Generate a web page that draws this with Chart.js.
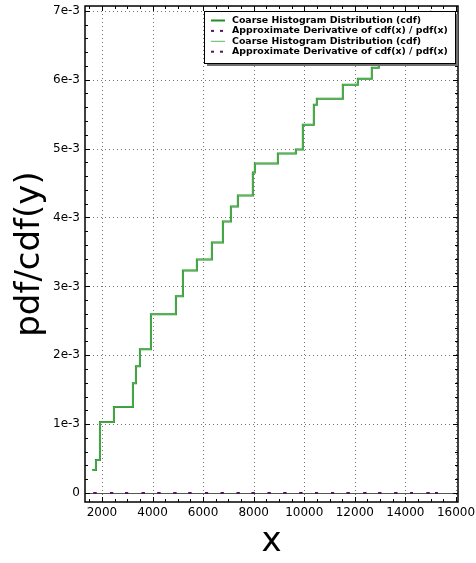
<!DOCTYPE html>
<html>
<head>
<meta charset="utf-8">
<script src="https://cdn.jsdelivr.net/npm/chart.js@4.4.0/dist/chart.umd.min.js"></script>
<style>
    html, body { margin: 0; padding: 0; background: #fff; }
    #wrap { width: 476px; height: 563px; }
</style>
</head>
<body>
<div id="wrap"><canvas id="cdfChart" width="476" height="563"></canvas></div>
<script>
// === DỮ LIỆU ===
// bậc thang cdf: giá trị sau mỗi bước nhảy tại x
const cdfX = [1617, 1763, 1921, 2474, 3225, 3344, 3502, 3937, 4925, 5202, 5755, 6348, 6783,
    7099, 7375, 7968, 8047, 8957, 9668, 9945, 10379, 10498, 11526, 12119, 12672, 12949,
    13500, 14200, 15000];
const cdfY = [0.333e-3, 0.478e-3, 1.03e-3, 1.25e-3, 1.594e-3, 1.84e-3, 2.087e-3, 2.594e-3,
    2.855e-3, 3.232e-3, 3.39e-3, 3.638e-3, 3.942e-3, 4.159e-3, 4.319e-3, 4.652e-3, 4.783e-3,
    4.928e-3, 4.986e-3, 5.348e-3, 5.638e-3, 5.725e-3, 5.928e-3, 6.014e-3, 6.174e-3, 6.40e-3,
    6.62e-3, 6.85e-3, 7.0e-3];

// đạo hàm xấp xỉ (pdf) - gần như bằng 0 trên trục
const pdfX = [1723, 2383, 2976, 3632, 4253, 4885, 5478, 6138, 6755, 7387, 7980, 8613, 9234,
    9866, 10486, 11119, 11735, 12395, 12988, 13621, 14241, 14897, 15229];
const pdfY = [0.4e-6, 0.5e-6, 0.5e-6, 0.6e-6, 0.5e-6, 0.4e-6, 0.5e-6, 0.5e-6, 0.6e-6, 0.5e-6,
    0.5e-6, 0.4e-6, 0.5e-6, 0.5e-6, 0.5e-6, 0.4e-6, 0.5e-6, 0.5e-6, 0.4e-6, 0.5e-6,
    0.5e-6, 0.4e-6, 0.3e-6];

const cdfLabel = 'Coarse Histogram Distribution (cdf)';
const pdfLabel = 'Approximate Derivative of cdf(x) / pdf(x)';

const xTicks = [2000, 4000, 6000, 8000, 10000, 12000, 14000, 16000];
const yTicks = [0, 1e-3, 2e-3, 3e-3, 4e-3, 5e-3, 6e-3, 7e-3];
const yTickLabels = ['0', '1e-3', '2e-3', '3e-3', '4e-3', '5e-3', '6e-3', '7e-3'];

const FONT = '"DejaVu Sans", "Liberation Sans", sans-serif';
const GREEN_DARK = 'rgb(35,140,35)';
const GREEN_LIGHT = 'rgb(95,185,95)';
const PURPLE = 'rgb(85,20,100)';

function toPoints(xs, ys) {
    return xs.map((x, i) => ({ x: x, y: ys[i] }));
}

// Lưới chấm, khung, vạch chia hướng vào trong, chú thích
const framePlugin = {
    id: 'frame',
    beforeDatasetsDraw(chart) {
        const { ctx, chartArea: a, scales: { x, y } } = chart;
        ctx.save();
        ctx.strokeStyle = 'rgba(0,0,0,0.55)';
        ctx.lineWidth = 1;
        ctx.setLineDash([1, 3]);
        xTicks.forEach(v => {
            const px = Math.round(x.getPixelForValue(v)) + 0.5;
            ctx.beginPath(); ctx.moveTo(px, a.top); ctx.lineTo(px, a.bottom); ctx.stroke();
        });
        yTicks.forEach(v => {
            const py = Math.round(y.getPixelForValue(v)) + 0.5;
            ctx.beginPath(); ctx.moveTo(a.left, py); ctx.lineTo(a.right, py); ctx.stroke();
        });
        // đường y = 0
        ctx.setLineDash([]);
        ctx.strokeStyle = '#555';
        const py0 = Math.round(y.getPixelForValue(0)) + 0.5;
        ctx.beginPath(); ctx.moveTo(a.left, py0); ctx.lineTo(a.right, py0); ctx.stroke();
        ctx.restore();
    },
    afterDatasetsDraw(chart) {
        const { ctx, chartArea: a, scales: { x, y } } = chart;
        ctx.save();
        ctx.strokeStyle = '#000';
        ctx.lineWidth = 1;
        const tick = (px, py, dx, dy) => {
            ctx.beginPath(); ctx.moveTo(px, py); ctx.lineTo(px + dx, py + dy); ctx.stroke();
        };
        // vạch chia chính + phụ
        for (let v = 1500; v <= 16000; v += 500) {
            const px = Math.round(x.getPixelForValue(v)) + 0.5;
            const len = v % 2000 === 0 ? 5 : 3;
            tick(px, a.bottom, 0, -len);
            tick(px, a.top, 0, len);
        }
        for (let i = 0; i <= 35; i++) {
            const v = i * 0.2e-3;
            const py = Math.round(y.getPixelForValue(v)) + 0.5;
            const len = i % 5 === 0 ? 5 : 3;
            tick(a.left, py, len, 0);
            tick(a.right, py, -len, 0);
        }
        ctx.lineWidth = 1.5;
        ctx.strokeRect(a.left, a.top, a.right - a.left, a.bottom - a.top);
        ctx.restore();
    },
    afterDraw(chart) {
        const ctx = chart.ctx;
        const bx = 204, by = 11, bw = 251, bh = 52;
        ctx.save();
        ctx.fillStyle = '#6f6f6f';
        ctx.fillRect(bx + 3, by + 3, bw, bh);
        ctx.fillStyle = '#fff';
        ctx.fillRect(bx, by, bw, bh);
        ctx.strokeStyle = '#000';
        ctx.lineWidth = 1;
        ctx.strokeRect(bx + 0.5, by + 0.5, bw, bh);

        ctx.font = 'bold 9.4px ' + FONT;
        ctx.fillStyle = '#000';
        ctx.textBaseline = 'middle';
        chart.data.datasets.forEach((ds, i) => {
            const cy = by + 9.5 + i * 10.4;
            ctx.strokeStyle = ds.borderColor;
            if (ds.showLine === false) {
                ctx.lineWidth = 2;
                ctx.beginPath(); ctx.moveTo(211, cy); ctx.lineTo(214, cy); ctx.stroke();
                ctx.beginPath(); ctx.moveTo(220, cy); ctx.lineTo(223, cy); ctx.stroke();
            } else {
                ctx.lineWidth = ds.borderWidth;
                ctx.beginPath(); ctx.moveTo(211, cy); ctx.lineTo(225, cy); ctx.stroke();
            }
            ctx.fillText(ds.label, 232, cy);
        });
        ctx.restore();
    }
};

const ctxCdf = document.getElementById('cdfChart').getContext('2d');
const cdfChart = new Chart(ctxCdf, {
    type: 'line',
    data: {
        datasets: [{
            label: cdfLabel,
            data: toPoints(cdfX, cdfY),
            borderColor: GREEN_DARK,
            borderWidth: 2,
            stepped: 'before',
            pointRadius: 0,
            fill: false,
            order: 2
        }, {
            label: pdfLabel,
            data: toPoints(pdfX, pdfY),
            borderColor: PURPLE,
            backgroundColor: PURPLE,
            showLine: false,
            pointStyle: 'line',
            pointRadius: 1.5,
            pointBorderWidth: 2,
            order: 1
        }, {
            label: cdfLabel,
            data: toPoints(cdfX, cdfY),
            borderColor: GREEN_LIGHT,
            borderWidth: 1,
            stepped: 'before',
            pointRadius: 0,
            fill: false,
            order: 0
        }, {
            label: pdfLabel,
            data: toPoints(pdfX, pdfY),
            borderColor: PURPLE,
            backgroundColor: PURPLE,
            showLine: false,
            pointStyle: 'line',
            pointRadius: 1.5,
            pointBorderWidth: 2,
            order: 0
        }]
    },
    options: {
        responsive: false,
        animation: false,
        devicePixelRatio: 1,
        layout: { padding: { left: 0, right: 18, top: 5, bottom: 0 } },
        plugins: {
            legend: { display: false },
            tooltip: { enabled: false }
        },
        scales: {
            x: {
                type: 'linear',
                min: 1330,
                max: 16080,
                grid: { display: false, drawTicks: false },
                border: { display: false },
                afterBuildTicks: s => { s.ticks = xTicks.map(v => ({ value: v })); },
                afterFit: s => { s.height = 61; s.paddingLeft = 0; s.paddingRight = 0; },
                ticks: {
                    color: '#000',
                    font: { family: FONT, size: 12 },
                    padding: 4,
                    maxRotation: 0,
                    autoSkip: false,
                    callback: v => String(v)
                },
                title: {
                    display: true,
                    text: 'x',
                    color: '#000',
                    font: { family: FONT, size: 34 },
                    padding: { top: 0, bottom: 0 }
                }
            },
            y: {
                type: 'linear',
                min: -0.13e-3,
                max: 7.07e-3,
                grid: { display: false, drawTicks: false },
                border: { display: false },
                afterBuildTicks: s => { s.ticks = yTicks.map(v => ({ value: v })); },
                afterFit: s => { s.width = 85; s.paddingTop = 0; s.paddingBottom = 0; },
                ticks: {
                    color: '#000',
                    font: { family: FONT, size: 12 },
                    padding: 5,
                    autoSkip: false,
                    callback: v => yTickLabels[yTicks.findIndex(t => Math.abs(t - v) < 1e-9)]
                },
                title: {
                    display: true,
                    text: 'pdf/cdf(y)',
                    color: '#000',
                    font: { family: FONT, size: 34 },
                    padding: { top: 10, bottom: 0 }
                }
            }
        }
    },
    plugins: [framePlugin]
});
</script>
</body>
</html>
